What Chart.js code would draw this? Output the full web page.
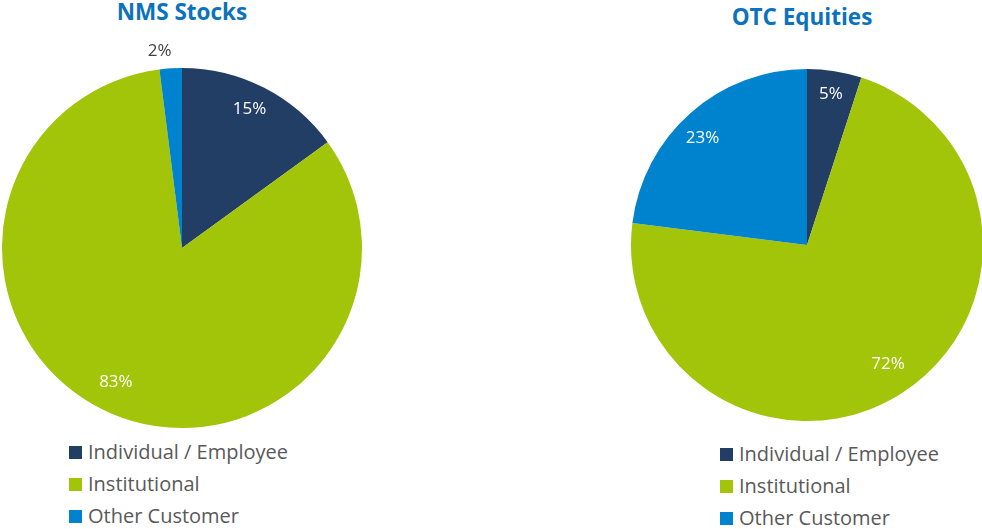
<!DOCTYPE html>
<html>
<head>
<meta charset="utf-8">
<script src="https://cdn.jsdelivr.net/npm/chart.js@4.4.1/dist/chart.umd.min.js"></script>
<style>
  html, body { margin: 0; padding: 0; background: #fff; overflow: hidden; }
  body { width: 982px; height: 529px; position: relative; font-family: "Open Sans", sans-serif; }
  .titulo { position: absolute; font-weight: bold; font-size: 22.5px; color: #0B72BE; text-align: center; line-height: 1; }
  .caja { position: absolute; }
  .leyenda { position: absolute; list-style: none; margin: 0; padding: 0; font-size: 20px; color: #595959; }
  .leyenda li { height: 32px; line-height: 32px; display: flex; align-items: center; }
  .leyenda span.cuadro { width: 13px; height: 13px; display: inline-block; margin-right: 6px; }
</style>
</head>
<body>
  <div class="titulo" style="left:0; width:364px; top:1px;">NMS Stocks</div>
  <div class="titulo" style="left:622px; width:360px; top:6px;">OTC Equities</div>

  <div class="caja" style="left:0; top:30px; width:364px; height:400px;"><canvas id="graficoNMS"></canvas></div>
  <div class="caja" style="left:629px; top:30px; width:356px; height:393px;"><canvas id="graficoOTC"></canvas></div>

  <ul class="leyenda" id="leyendaNMS" style="left:69px; top:436px;"></ul>
  <ul class="leyenda" id="leyendaOTC" style="left:720px; top:438px;"></ul>

<script>
  const categorias = ['Individual / Employee', 'Institutional', 'Other Customer'];
  const valoresNMS = [15, 83, 2];
  const valoresOTC = [5, 72, 23];
  const colores = ['#233E65', '#A2C409', '#0083CE'];

  // etiquetas de porcentaje: dentro de la porcion en blanco, fuera si es muy chica
  const etiquetas = {
    id: 'etiquetas',
    afterDatasetsDraw(chart, args, opts) {
      const ctx = chart.ctx;
      const arcos = chart.getDatasetMeta(0).data;
      const valores = chart.data.datasets[0].data;
      ctx.save();
      ctx.font = '17px "Open Sans"';
      ctx.textAlign = 'center';
      ctx.textBaseline = 'middle';
      arcos.forEach((arco, i) => {
        const p = arco.getProps(['x', 'y', 'startAngle', 'endAngle', 'outerRadius']);
        const medio = (p.startAngle + p.endAngle) / 2 + (opts.giros[i] || 0);
        const chica = valores[i] < 4;
        const r = p.outerRadius * (chica ? 1.1 : opts.radios[i]);
        ctx.fillStyle = chica ? '#404040' : '#ffffff';
        ctx.fillText(valores[i] + '%', p.x + Math.cos(medio) * r, p.y + Math.sin(medio) * r);
      });
      ctx.restore();
    }
  };

  function crearTorta(id, valores, padding, radios, giros) {
    return new Chart(document.getElementById(id), {
      type: 'pie',
      data: {
        labels: categorias,
        datasets: [{
          data: valores,
          backgroundColor: colores,
          borderWidth: 0
        }]
      },
      options: {
        responsive: true,
        maintainAspectRatio: false,
        animation: false,
        layout: { padding: padding },
        plugins: {
          legend: { display: false },
          tooltip: { enabled: false },
          etiquetas: { radios: radios, giros: giros }
        }
      },
      plugins: [etiquetas]
    });
  }

  function armarLeyenda(chart, idLista) {
    const lista = document.getElementById(idLista);
    chart.data.labels.forEach((nombre, i) => {
      const li = document.createElement('li');
      const cuadro = document.createElement('span');
      cuadro.className = 'cuadro';
      cuadro.style.background = chart.data.datasets[0].backgroundColor[i];
      li.appendChild(cuadro);
      li.appendChild(document.createTextNode(nombre));
      lista.appendChild(li);
    });
  }

  const graficoNMS = crearTorta('graficoNMS', valoresNMS, { top: 38, bottom: 2, left: 2, right: 2 },
    [0.86, 0.83, 0.85], [-0.02, 0.05, -0.05]);
  const graficoOTC = crearTorta('graficoOTC', valoresOTC, { top: 39, bottom: 2, left: 2, right: 2 },
    [0.87, 0.82, 0.85], [0, -0.03, -0.05]);

  armarLeyenda(graficoNMS, 'leyendaNMS');
  armarLeyenda(graficoOTC, 'leyendaOTC');
</script>
</body>
</html>
